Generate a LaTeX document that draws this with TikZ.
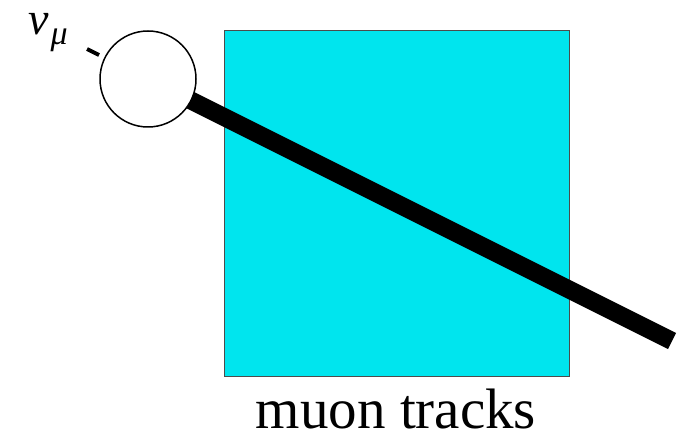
\documentclass[tikz,border=0pt]{standalone}
\usepackage{fontspec}
\setmainfont{Liberation Serif}
\begin{document}
\begin{tikzpicture}[x=1pt,y=-1pt,
  detector/.style={draw=black!70,line width=1pt,fill={rgb,255:red,0;green,229;blue,238},minimum width=345pt,minimum height=345pt,inner sep=0pt},
  vertexcirc/.style={circle,draw=black,line width=1.5pt,fill=white,minimum size=96pt,inner sep=0pt},
  track/.style={line width=18pt,line cap=butt,black},
  nuline/.style={line width=4pt,line cap=butt,black}]
\useasboundingbox (0,0) rectangle (692,438);
\node[detector] (det) at (396.5,203.5) {};
\coordinate (vtx) at (148,79);
\coordinate (trackend) at (672,341);
\coordinate (nuA) at (87,49);
\coordinate (nuB) at (99,55);
\draw[track] (vtx) -- (trackend);
\node[vertexcirc] (vertex) at (vtx) {};
\draw[nuline] (nuA) -- (nuB);
\node[inner sep=0pt,anchor=base west] (nulabel) at (28,35) {\fontsize{46}{48}\selectfont\itshape ν\kern2pt\raisebox{-10pt}{\fontsize{34}{36}\selectfont μ}};
\node[anchor=base,inner sep=0pt,text depth=0pt] (caption) at (396,428) {\fontsize{57}{60}\selectfont muon tracks};
\end{tikzpicture}
\end{document}
